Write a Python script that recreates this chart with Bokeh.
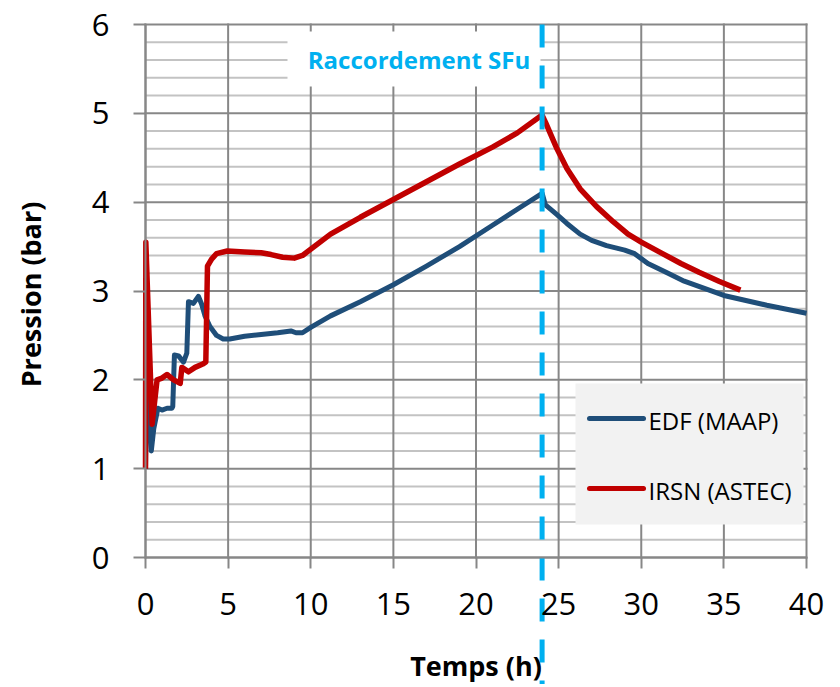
from bokeh.plotting import figure
from bokeh.models import Range1d, FixedTicker
from bokeh.core.properties import value
from bokeh.embed import file_html
from bokeh.resources import INLINE

# ---- data ----
edf_t = [0, 0.1, 0.35, 0.5, 0.75, 1.0, 1.3, 1.6, 1.65, 1.75, 2.0, 2.3, 2.5, 2.6, 2.9, 3.2,
         3.4, 3.6, 3.9, 4.3, 4.7, 5.1, 6.0, 7.0, 8.0, 8.8, 9.1, 9.5, 10.0, 11.2, 13, 15, 17,
         19, 21, 22.5, 24.0, 24.2, 24.9, 25.5, 26.3, 27.0, 27.9, 29.0, 29.6, 30.4, 31.5,
         32.6, 35, 37.6, 40]
edf_p = [1.0, 2.2, 1.2, 1.45, 1.68, 1.66, 1.68, 1.68, 1.70, 2.28, 2.27, 2.2, 2.3, 2.88, 2.86,
         2.94, 2.85, 2.72, 2.6, 2.5, 2.46, 2.46, 2.49, 2.51, 2.53, 2.55, 2.53, 2.53, 2.59,
         2.72, 2.88, 3.07, 3.28, 3.50, 3.74, 3.92, 4.10, 3.97, 3.86, 3.76, 3.64, 3.57, 3.51,
         3.46, 3.42, 3.31, 3.21, 3.11, 2.95, 2.84, 2.75]

irsn_t = [0, 0.02, 0.4, 0.7, 1.0, 1.3, 1.7, 2.1, 2.2, 2.6, 3.0, 3.5, 3.65, 3.75, 4.0, 4.3,
          4.95, 6.0, 7.0, 7.6, 8.3, 9.0, 9.5, 11.2, 13, 15, 17, 19, 21, 22.5, 24.0, 24.2,
          24.9, 25.5, 26.3, 27.3, 28.3, 29.2, 30, 31.2, 32.4, 33.5, 34.7, 36]
irsn_p = [1.0, 3.55, 1.5, 2.0, 2.02, 2.06, 2.0, 1.96, 2.14, 2.09, 2.14, 2.18, 2.2, 3.28, 3.36,
          3.42, 3.45, 3.44, 3.43, 3.41, 3.38, 3.37, 3.40, 3.64, 3.83, 4.03, 4.23, 4.43, 4.62,
          4.78, 4.98, 4.90, 4.60, 4.38, 4.15, 3.95, 3.78, 3.64, 3.55, 3.43, 3.31, 3.21, 3.11,
          3.01]

series_names = ["EDF (MAAP)", "IRSN (ASTEC)"]
series_colors = ["#1F4E79", "#C00000"]

x_ticks = [0, 5, 10, 15, 20, 25, 30, 35, 40]
y_ticks = [0, 1, 2, 3, 4, 5, 6]
y_minor = [round(i * 0.2, 1) for i in range(31) if i % 5 != 0]

raccordement_t = 24
raccordement_label = "Raccordement SFu"

# ---- layout (pixels) ----
W, H = 836, 684
PX_LEFT, PX_RIGHT, PX_TOP, PX_BOTTOM = 145, 806, 24, 557   # plot area of the chart
X0, X1, Y0, Y1 = 0, 40, 0, 6
XS = (PX_RIGHT - PX_LEFT) / (X1 - X0)
YS = (PX_BOTTOM - PX_TOP) / (Y1 - Y0)


def dx(px):
    return X0 + (px - PX_LEFT) / XS


def dy(py):
    return Y0 + (PX_BOTTOM - py) / YS


p = figure(width=W, height=H, output_backend="svg", toolbar_location=None,
           x_range=Range1d(dx(0), dx(W)), y_range=Range1d(dy(H), dy(0)),
           min_border=0, min_border_left=0, min_border_top=0, min_border_right=0,
           min_border_bottom=0, outline_line_color=None, background_fill_color="white",
           border_fill_color="white")
p.xgrid.visible = False
p.ygrid.visible = False

FONT = "Open Sans"
GRID_MAJ = "#878787"
GRID_MIN = "#C3C3C3"

# grid lines, limited to the plot area
p.segment(x0=[X0] * len(y_minor), x1=[X1] * len(y_minor), y0=y_minor, y1=y_minor,
          line_color=GRID_MIN, line_width=2, level="underlay")
p.segment(x0=[X0] * len(y_ticks), x1=[X1] * len(y_ticks), y0=y_ticks, y1=y_ticks,
          line_color=GRID_MAJ, line_width=2, line_cap="square", level="underlay")
p.segment(x0=x_ticks, x1=x_ticks, y0=[Y0] * len(x_ticks), y1=[Y1] * len(x_ticks),
          line_color=GRID_MAJ, line_width=2, line_cap="square", level="underlay")

# axes (drawn at fixed positions inside the full-canvas frame)
p.xaxis.fixed_location = 0
p.yaxis.fixed_location = 0
for ax in (p.xaxis, p.yaxis):
    ax.axis_line_color = GRID_MAJ
    ax.axis_line_width = 2
    ax.major_tick_line_color = GRID_MAJ
    ax.major_tick_line_width = 2
    ax.major_tick_in = 0
    ax.minor_tick_in = 0
    ax.minor_tick_out = 0
    ax.major_label_text_font = FONT
    ax.major_label_text_font_size = "31px"
    ax.major_label_text_color = "black"
    ax.axis_label_text_font = FONT
    ax.axis_label_text_font_style = "bold"
    ax.axis_label_text_font_size = "27px"
    ax.axis_label_text_color = "black"

p.xaxis.ticker = FixedTicker(ticks=x_ticks)
p.xaxis.bounds = (X0, X1)
p.xaxis.major_tick_out = 11
p.xaxis.major_label_standoff = 24
p.xaxis.axis_label = "Temps (h)"
p.xaxis.axis_label_standoff = 29

p.yaxis.ticker = FixedTicker(ticks=y_ticks)
p.yaxis.bounds = (Y0, Y1)
p.yaxis.major_tick_out = 12
p.yaxis.major_label_standoff = 24
p.yaxis.axis_label = "Pression  (bar)"
p.yaxis.axis_label_standoff = 40

# annotation box + text
p.quad(left=[dx(287)], right=[dx(540)], bottom=[dy(86)], top=[dy(31)],
       fill_color="white", line_color=None)
p.text(x=[dx(418.5)], y=[dy(59)], text=[raccordement_label],
       text_font=value(FONT), text_font_style="bold", text_font_size="24px",
       text_color="#00B0F0", text_align="center", text_baseline="middle")

# series
p.line(edf_t, edf_p, line_color=series_colors[0], line_width=5, line_join="round")
p.line(irsn_t, irsn_p, line_color=series_colors[1], line_width=5.5, line_join="round")

# dashed vertical line (continues below the axis, as in the original)
p.segment(x0=[raccordement_t], y0=[Y1], x1=[raccordement_t], y1=[dy(H)],
          line_color="#00B0F0", line_width=5, line_dash="23 18")

# legend box
p.quad(left=[dx(575)], right=[dx(803)], bottom=[dy(524)], top=[dy(383)],
       fill_color="#F2F2F2", line_color=None)
leg_y = [dy(418), dy(488)]
p.segment(x0=[dx(589)] * 2, x1=[dx(643)] * 2, y0=leg_y, y1=leg_y,
          line_color=series_colors, line_width=5, line_cap="round")
p.text(x=[dx(648)] * 2, y=[dy(420), dy(490)], text=series_names,
       text_font=value(FONT), text_font_size="24px", text_color="black",
       text_align="left", text_baseline="middle")

open("out.html", "w").write(file_html(p, INLINE))
